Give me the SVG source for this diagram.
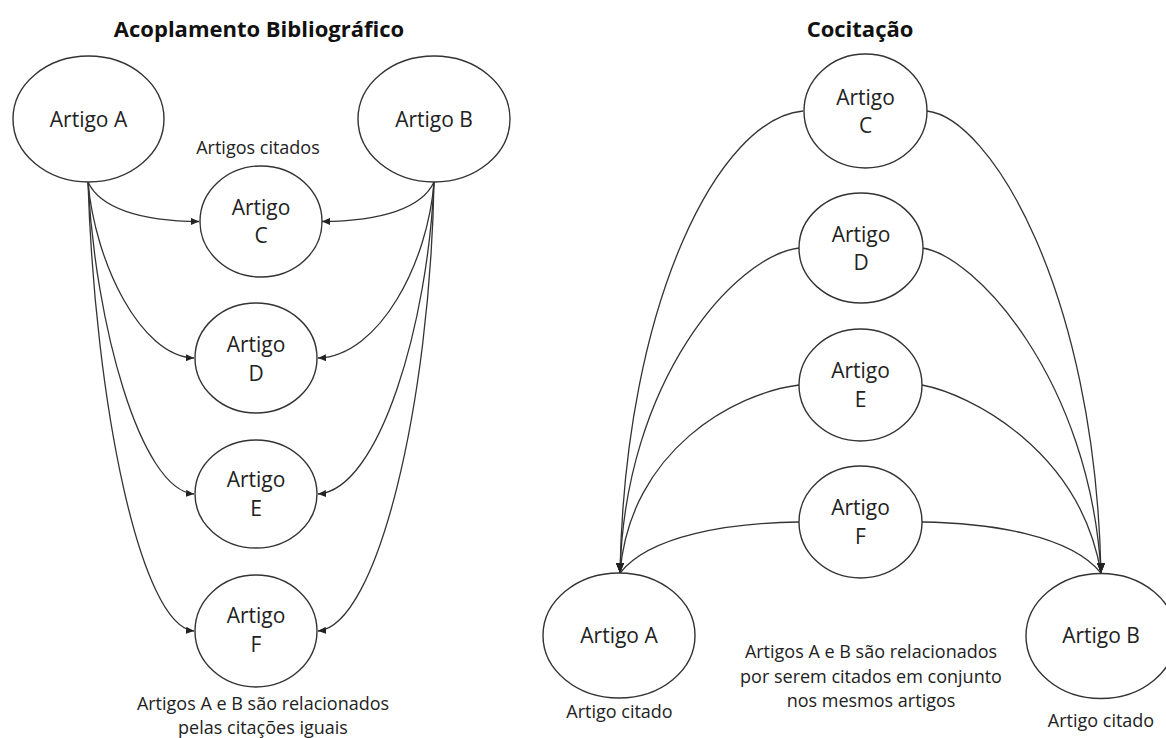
<svg xmlns="http://www.w3.org/2000/svg" width="1166" height="738" viewBox="0 0 1166 738">
  <defs>
    <style>
      .node { fill: #ffffff; stroke: #333333; stroke-width: 1.4; }
      .edge { fill: none; stroke: #333333; stroke-width: 1.3; }
      .lbl { font-family: "Open Sans", "Liberation Sans", sans-serif; font-size: 21px; fill: #222222; text-anchor: middle; }
      .small { font-family: "Open Sans", "Liberation Sans", sans-serif; font-size: 18px; fill: #222222; text-anchor: middle; }
      .title { font-family: "Open Sans", "Liberation Sans", sans-serif; font-size: 22px; font-weight: bold; fill: #111111; text-anchor: middle; }
    </style>
    <marker id="arr" viewBox="0 0 8 7" refX="8" refY="3.5" markerWidth="8" markerHeight="7" markerUnits="userSpaceOnUse" orient="auto">
      <path d="M0,0 L8,3.5 L0,7 z" fill="#222222"/>
    </marker>
    <marker id="arrDown" viewBox="0 0 10 8" refX="10" refY="4" markerWidth="10" markerHeight="8" markerUnits="userSpaceOnUse" orient="90">
      <path d="M0,0 L10,4 L0,8 z" fill="#222222"/>
    </marker>
  </defs>
  <rect width="1166" height="738" fill="#ffffff"/>

  <!-- Left diagram: Acoplamento Bibliográfico -->
  <text class="title" x="259" y="37">Acoplamento Bibliográfico</text>
  <text class="small" x="258" y="154">Artigos citados</text>
  <text class="small" x="263" y="710">Artigos A e B são relacionados</text>
  <text class="small" x="263" y="734">pelas citações iguais</text>

  <g id="connectors-left">
    <path class="edge" d="M88,182 C100,208 140,221 199,221.5" marker-end="url(#arr)"/>
    <path class="edge" d="M88,182 C95,262 140,356 194,358" marker-end="url(#arr)"/>
    <path class="edge" d="M88,182 C95,322 140,490 194,494" marker-end="url(#arr)"/>
    <path class="edge" d="M88,182 C95,402 140,626 194,631" marker-end="url(#arr)"/>
    <path class="edge" d="M434,182 C422,208 382,221 322,221.5" marker-end="url(#arr)"/>
    <path class="edge" d="M434,182 C428,262 380,356 318,358" marker-end="url(#arr)"/>
    <path class="edge" d="M434,182 C428,322 380,490 318,494" marker-end="url(#arr)"/>
    <path class="edge" d="M434,182 C430,402 378,626 318,631" marker-end="url(#arr)"/>
  </g>

  <g id="L-artigo-a">
    <ellipse class="node" cx="88.5" cy="119" rx="75.5" ry="63"/>
    <text class="lbl" x="88.5" y="127">Artigo A</text>
  </g>
  <g id="L-artigo-b">
    <ellipse class="node" cx="434" cy="119" rx="76" ry="63"/>
    <text class="lbl" x="434" y="127">Artigo B</text>
  </g>
  <g id="L-artigo-c">
    <ellipse class="node" cx="261" cy="221.5" rx="61" ry="55.5"/>
    <text class="lbl" x="261" y="215">Artigo</text>
    <text class="lbl" x="261" y="243">C</text>
  </g>
  <g id="L-artigo-d">
    <ellipse class="node" cx="256" cy="358" rx="61" ry="55"/>
    <text class="lbl" x="256" y="352">Artigo</text>
    <text class="lbl" x="256" y="381">D</text>
  </g>
  <g id="L-artigo-e">
    <ellipse class="node" cx="256" cy="494" rx="61" ry="54"/>
    <text class="lbl" x="256" y="487">Artigo</text>
    <text class="lbl" x="256" y="516">E</text>
  </g>
  <g id="L-artigo-f">
    <ellipse class="node" cx="256" cy="631" rx="61" ry="56"/>
    <text class="lbl" x="256" y="623">Artigo</text>
    <text class="lbl" x="256" y="652">F</text>
  </g>

  <!-- Right diagram: Cocitação -->
  <text class="title" x="860" y="37">Cocitação</text>
  <text class="small" x="871" y="658">Artigos A e B são relacionados</text>
  <text class="small" x="871" y="683">por serem citados em conjunto</text>
  <text class="small" x="871" y="707">nos mesmos artigos</text>
  <text class="small" x="619.5" y="718">Artigo citado</text>
  <text class="small" x="1101" y="727">Artigo citado</text>

  <g id="connectors-right">
    <path class="edge" d="M803,111 C720,118 625,300 620,573" marker-end="url(#arrDown)"/>
    <path class="edge" d="M799,248 C735,256 625,380 620,573" marker-end="url(#arrDown)"/>
    <path class="edge" d="M799,385 C735,393 630,450 620,573" marker-end="url(#arrDown)"/>
    <path class="edge" d="M799,522 C730,523 650,535 620,573" marker-end="url(#arrDown)"/>
    <path class="edge" d="M927,111 C990,118 1095,290 1101,573" marker-end="url(#arrDown)"/>
    <path class="edge" d="M922,248 C975,255 1090,380 1101,573" marker-end="url(#arrDown)"/>
    <path class="edge" d="M922,385 C970,394 1080,450 1101,573" marker-end="url(#arrDown)"/>
    <path class="edge" d="M922,522 C990,523 1070,535 1101,573" marker-end="url(#arrDown)"/>
  </g>

  <g id="R-artigo-c">
    <ellipse class="node" cx="865.5" cy="111" rx="61.5" ry="57"/>
    <text class="lbl" x="865.5" y="105">Artigo</text>
    <text class="lbl" x="865.5" y="133">C</text>
  </g>
  <g id="R-artigo-d">
    <ellipse class="node" cx="861" cy="248" rx="62" ry="55"/>
    <text class="lbl" x="861" y="242">Artigo</text>
    <text class="lbl" x="861" y="270">D</text>
  </g>
  <g id="R-artigo-e">
    <ellipse class="node" cx="860.5" cy="385" rx="61.5" ry="56"/>
    <text class="lbl" x="860.5" y="378">Artigo</text>
    <text class="lbl" x="860.5" y="407">E</text>
  </g>
  <g id="R-artigo-f">
    <ellipse class="node" cx="860.5" cy="522" rx="61.5" ry="56"/>
    <text class="lbl" x="860.5" y="515">Artigo</text>
    <text class="lbl" x="860.5" y="544">F</text>
  </g>
  <g id="R-artigo-a">
    <ellipse class="node" cx="619" cy="635.5" rx="76" ry="62.5"/>
    <text class="lbl" x="619" y="643">Artigo A</text>
  </g>
  <g id="R-artigo-b">
    <ellipse class="node" cx="1101" cy="636" rx="75" ry="62.5"/>
    <text class="lbl" x="1101" y="643">Artigo B</text>
  </g>
</svg>
